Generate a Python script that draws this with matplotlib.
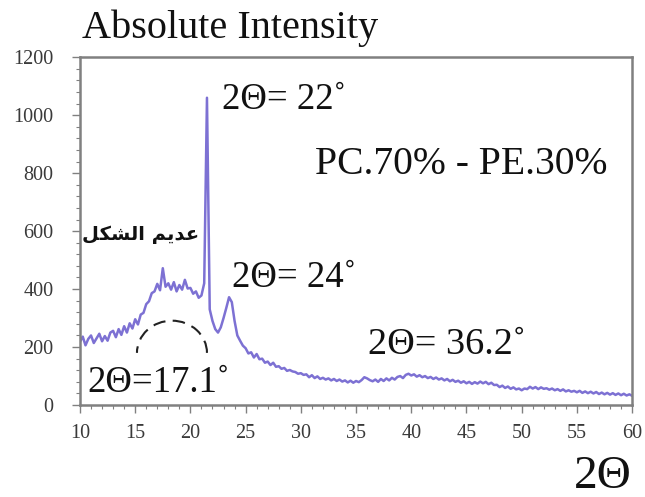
import numpy as np
import matplotlib
matplotlib.use("Agg")
import matplotlib.pyplot as plt
from matplotlib.patches import Arc
from matplotlib.ticker import MultipleLocator

# XRD scan: intensity sampled every 0.25 degrees of 2-theta, 10..60
two_theta_start, two_theta_step = 10.0, 0.25
intensity = [
    # 10.00 - 14.75
    218, 236, 206, 228, 240, 214, 230, 246, 220, 238,
    222, 250, 256, 234, 262, 242, 272, 250, 282, 264,
    # 15.00 - 19.75
    296, 278, 312, 318, 348, 358, 386, 392, 418, 396,
    472, 408, 420, 398, 424, 392, 414, 398, 432, 402,
    # 20.00 - 24.75
    404, 384, 392, 370, 378, 420, 1060, 330, 290, 262,
    250, 268, 300, 335, 372, 355, 290, 240, 222, 205,
    # 25.00 - 29.75
    196, 178, 182, 164, 176, 158, 160, 146, 150, 138,
    146, 132, 134, 125, 128, 118, 121, 116, 114, 108,
    # 30.00 - 34.75
    110, 104, 106, 96, 103, 93, 99, 90, 94, 88,
    92, 85, 90, 83, 88, 81, 85, 78, 84, 77,
    # 35.00 - 39.75
    83, 79, 86, 96, 92, 86, 82, 88, 80, 90,
    83, 92, 85, 94, 88, 97, 100, 93, 104, 108,
    # 40.00 - 44.75
    102, 106, 98, 103, 96, 100, 93, 97, 90, 95,
    88, 92, 85, 90, 82, 87, 80, 84, 77, 82,
    # 45.00 - 49.75
    75, 80, 73, 79, 74, 81, 75, 80, 72, 77,
    69, 70, 62, 67, 59, 64, 56, 61, 54, 57,
    # 50.00 - 54.75
    51, 57, 55, 63, 57, 62, 55, 61, 56, 58,
    53, 57, 51, 55, 49, 54, 47, 51, 46, 49,
    # 55.00 - 60.00
    44, 49, 42, 47, 41, 46, 40, 45, 38, 43,
    37, 42, 36, 41, 35, 40, 34, 39, 33, 37, 32,
]
two_theta = two_theta_start + two_theta_step * np.arange(len(intensity))

x_ticks = [10, 15, 20, 25, 30, 35, 40, 45, 50, 55, 60]
y_ticks = [0, 200, 400, 600, 800, 1000, 1200]

title_text = "Absolute Intensity"
sample_text = "PC.70% - PE.30%"
amorphous_text = "عديم الشكل"
peak_labels = ["2Θ= 22˚", "2Θ= 24˚", "2Θ= 36.2˚", "2Θ=17.1˚"]
x_label_text = "2Θ"


def shape_arabic(text):
    """Minimal contextual shaping + visual reordering for matplotlib."""
    forms = {
        'ع': ('\uFEC9', '\uFECA', '\uFECB', '\uFECC'),
        'د': ('\uFEA9', '\uFEAA', None, None),
        'ي': ('\uFEF1', '\uFEF2', '\uFEF3', '\uFEF4'),
        'م': ('\uFEE1', '\uFEE2', '\uFEE3', '\uFEE4'),
        'ا': ('\uFE8D', '\uFE8E', None, None),
        'ل': ('\uFEDD', '\uFEDE', '\uFEDF', '\uFEE0'),
        'ش': ('\uFEB5', '\uFEB6', '\uFEB7', '\uFEB8'),
        'ك': ('\uFED9', '\uFEDA', '\uFEDB', '\uFEDC'),
    }
    out = []
    for i, ch in enumerate(text):
        if ch not in forms:
            out.append(ch)
            continue
        prev = text[i - 1] if i > 0 else None
        nxt = text[i + 1] if i + 1 < len(text) else None
        joins_prev = prev in forms and forms[prev][2] is not None
        joins_next = nxt in forms and forms[ch][2] is not None
        iso, fin, ini, med = forms[ch]
        if joins_prev and joins_next:
            out.append(med)
        elif joins_prev:
            out.append(fin)
        elif joins_next:
            out.append(ini)
        else:
            out.append(iso)
    return "".join(reversed(out))


serif = ["Liberation Serif", "DejaVu Serif"]
frame_gray = "#808080"
tick_gray = "#3a3a3a"
line_color = "#6658cc"

fig = plt.figure(figsize=(6.45, 4.97), dpi=100)
ax = fig.add_axes([0.124, 0.185, 0.856, 0.700])

ax.plot(two_theta, intensity, color=line_color, lw=1.8, alpha=0.85,
        solid_joinstyle="round")

ax.set_xlim(10, 60)
ax.set_ylim(0, 1200)
ax.set_xticks(x_ticks)
ax.set_yticks(y_ticks)
ax.xaxis.set_minor_locator(MultipleLocator(1))
ax.yaxis.set_minor_locator(MultipleLocator(40))
ax.tick_params(which="major", direction="out", length=6, width=1,
               color=frame_gray, labelcolor=tick_gray, labelsize=14.5)
ax.tick_params(axis="x", which="major", pad=8)
ax.tick_params(axis="y", which="major", pad=13)
ax.tick_params(which="minor", direction="out", length=3, width=0.8,
               color=frame_gray)
for lab in ax.get_xticklabels() + ax.get_yticklabels():
    lab.set_family(serif)
for side in ax.spines.values():
    side.set_color(frame_gray)
    side.set_linewidth(1.8)

# dashed half-circle marking the broad amorphous hump
ax.add_patch(Arc((18.33, 180), width=6.34, height=222, theta1=0, theta2=180,
                 color="#222222", lw=1.5, ls=(0, (6, 3.5))))

text_kw = dict(family=serif, color="#111111", va="baseline", ha="left")
ax.text(22.9, 1021, peak_labels[0], fontsize=26.5, **text_kw)
ax.text(31.3, 796, sample_text, fontsize=28.5, **text_kw)
ax.text(23.8, 408, peak_labels[1], fontsize=26.5, **text_kw)
ax.text(36.1, 175, peak_labels[2], fontsize=27.5, **text_kw)
ax.text(10.7, 45, peak_labels[3], fontsize=26.5, **text_kw)
ax.text(15.5, 590, shape_arabic(amorphous_text), fontsize=14,
        fontweight="bold", family="DejaVu Sans", color="#111111",
        ha="center", va="center")

fig.text(0.127, 0.924, title_text, fontsize=29, family=serif,
         color="#111111", ha="left", va="baseline")
fig.text(0.98, 0.018, x_label_text, fontsize=34, family=serif,
         color="#111111", ha="right", va="baseline")

fig.savefig("out.png", dpi=100)
